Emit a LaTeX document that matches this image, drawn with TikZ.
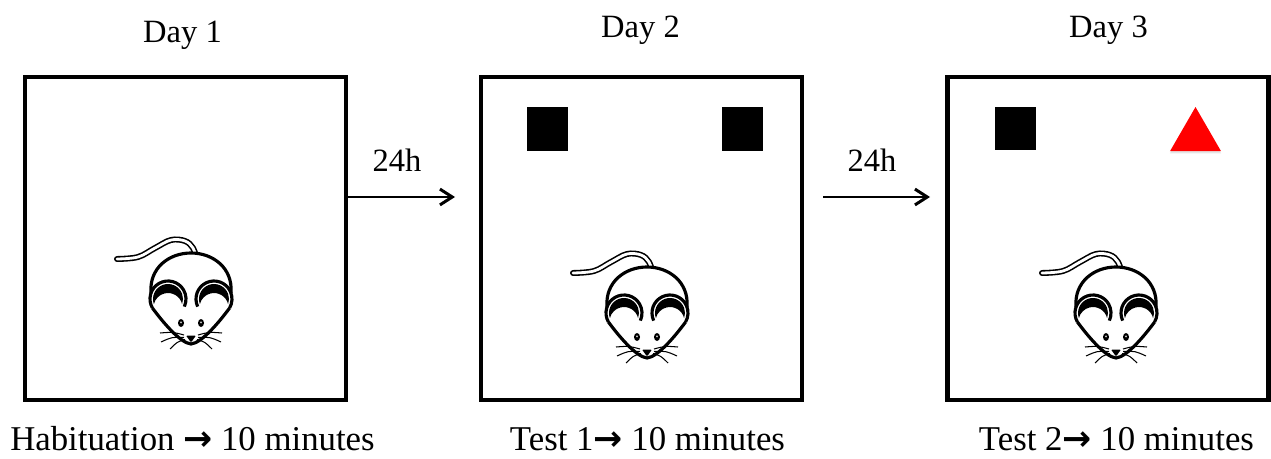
\documentclass[tikz,border=0pt]{standalone}
\usepackage{fontspec}
\setmainfont{Liberation Serif}
\newfontfamily\arrowfont{DejaVu Sans}
\usetikzlibrary{positioning,arrows.meta,shapes.geometric,shadows}

\begin{document}
\begin{tikzpicture}[
        x=0.02cm, y=-0.02cm,
        arena/.style={rectangle, draw=black, line width=2.4pt, fill=white, minimum width=6.42cm, minimum height=6.46cm, inner sep=0pt},
        block/.style={rectangle, fill=black, minimum width=0.82cm, minimum height=0.88cm, inner sep=0pt},
        novel/.style={regular polygon, regular polygon sides=3, fill=red, minimum size=1.18cm, inner sep=0pt,
            drop shadow={opacity=0.2, shadow xshift=0pt, shadow yshift=-1.2pt}},
        daylabel/.style={font=\fontsize{18.5}{22}\selectfont, anchor=base, inner sep=0pt},
        tasklabel/.style={font=\fontsize{19.8}{23}\selectfont, anchor=base, inner sep=0pt},
        timearrow/.style={-{Straight Barb[length=7pt, width=9pt]}, line width=1.7pt},
        mouse/.pic={
            % tail, drawn first so the head hides its root
            \draw[line width=3.4pt, line cap=round, postaction={draw, white, line width=1.6pt, line cap=round}]
                plot[smooth, tension=0.6] coordinates {(-74,-41) (-53,-43) (-36,-52) (-20,-60) (-6,-59) (2,-52) (6,-40)};
            % head and ears
            \fill[white] (-40,-7) .. controls (-42,-32) and (-22,-47) .. (0,-47)
                .. controls (22,-47) and (42,-32) .. (40,-7) -- (38.6,8)
                .. controls (29,21) and (11,43) .. (0,44) .. controls (-11,43) and (-29,21) .. (-38.6,8) -- cycle;
            \fill[white] (-23,-1) circle (18) (23,-1) circle (18);
            % black inner part of the ears
            \foreach \ex in {-23,23}
                \fill (\ex,-1) ++(160:15) arc[start angle=160, end angle=380, radius=15]
                    arc[start angle=346.5, end angle=193.5, radius=14.5] -- cycle;
            \draw[line width=1.8pt] (-40,-7) .. controls (-42,-32) and (-22,-47) .. (0,-47)
                .. controls (22,-47) and (42,-32) .. (40,-7);
            \draw[line width=1.8pt] (-23,-1) ++(150:18) arc[start angle=150, end angle=385, radius=18];
            \draw[line width=1.8pt] (23,-1) ++(155:18) arc[start angle=155, end angle=390, radius=18];
            \draw[line width=1.8pt, line join=round] (-38.6,8) .. controls (-29,21) and (-11,43) .. (0,44)
                .. controls (11,43) and (29,21) .. (38.6,8);
            % eyes and nose
            \foreach \s in {-1,1} {
                \fill (\s*10,23) ellipse [x radius=3, y radius=4];
                \fill[white] (\s*10,22.4) ellipse [x radius=0.8, y radius=1.1];
            }
            \fill[rounded corners=0.6pt] (-5,35.5) -- (5,35.5) -- (0,42.5) -- cycle;
            % whiskers
            \foreach \s in {-1,1} {
                \draw[line width=0.6pt] (\s*7,35) .. controls (\s*18,32) .. (\s*31,33);
                \draw[line width=0.6pt] (\s*7,37.5) .. controls (\s*19,37) .. (\s*30,42);
                \draw[line width=0.6pt] (\s*6,39.5) .. controls (\s*14,42) .. (\s*21,49);
            }
        }
    ]
    \useasboundingbox (0,0) rectangle (1271,459);

    % three arenas
    \node[arena] (box1) at (185.5,238.5) {};
    \node[arena] (box2) at (641.5,238.5) {};
    \node[arena] (box3) at (1108,238.5) {};

    % objects
    \node[block] (obj1) at (547,129) {};
    \node[block] (obj2) at (742.5,129) {};
    \node[block] (obj3) at (1015.5,128.5) {};
    \node[novel] (obj4) at (1195.5,136.5) {};

    % mice
    \pic at (191,300) {mouse};
    \pic at (647,314) {mouse};
    \pic at (1116,314) {mouse};

    % day titles
    \node[daylabel] (day1) at (182.5,43) {Day 1};
    \node[daylabel] (day2) at (640.5,38) {Day 2};
    \node[daylabel] (day3) at (1108.5,38) {Day 3};

    % delays between sessions
    \coordinate (a1s) at (box1.east |- 0,197);
    \coordinate (a1e) at (455,197);
    \coordinate (a2s) at (823,197);
    \coordinate (a2e) at (930,197);
    \draw[timearrow] (a1s) -- (a1e);
    \draw[timearrow] (a2s) -- (a2e);
    \node[daylabel] (wait1) at (397,172) {24h};
    \node[daylabel] (wait2) at (872,172) {24h};

    % session descriptions
    \node[tasklabel] (task1) at (192.5,450) {Habituation {\arrowfont\bfseries →} 10 minutes};
    \node[tasklabel] (task2) at (647.5,450) {Test 1{\arrowfont\bfseries →} 10 minutes};
    \node[tasklabel] (task3) at (1116.5,450) {Test 2{\arrowfont\bfseries →} 10 minutes};
\end{tikzpicture}
\end{document}
